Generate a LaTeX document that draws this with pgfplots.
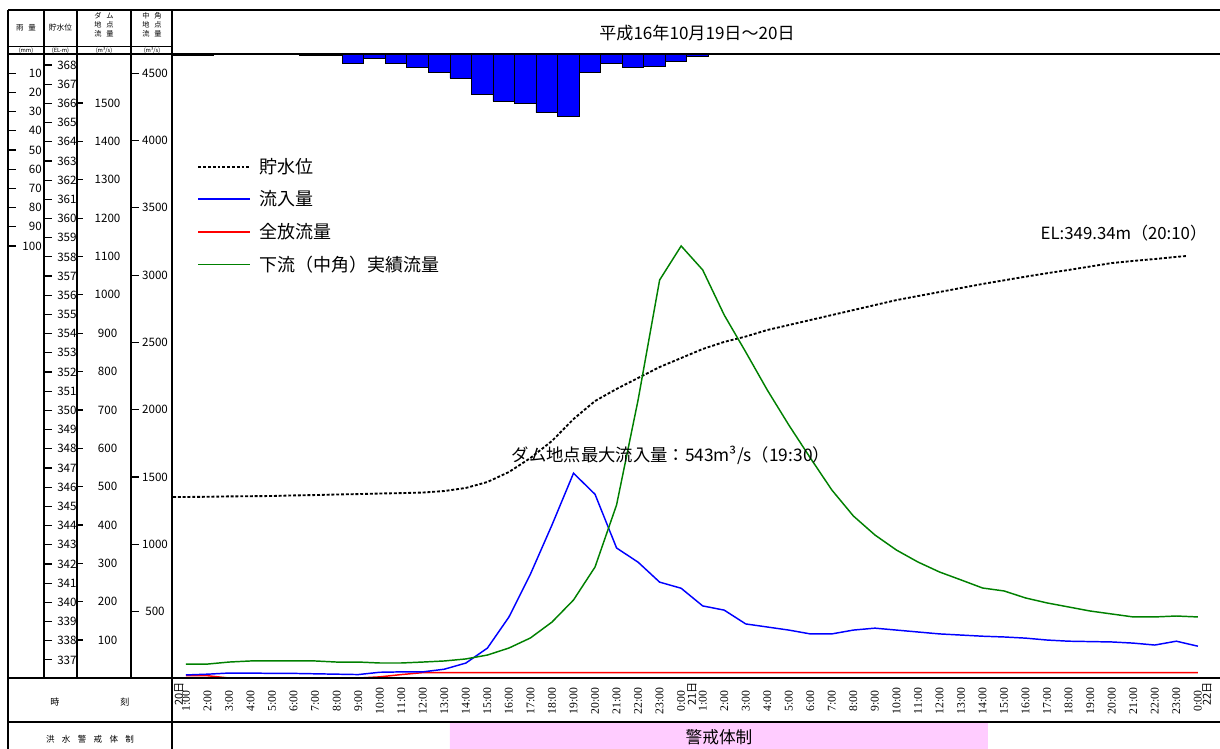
\documentclass[border=0pt]{standalone}
\usepackage{fontspec}
\setmainfont{Noto Sans CJK JP}
\newfontfamily\numfont{Liberation Serif}
\usepackage{pgfplots}
\usepackage{pgfplotstable}
\pgfplotsset{compat=1.18}
\definecolor{pinkband}{RGB}{255,204,255}
\definecolor{dgreen}{RGB}{0,128,0}

% hourly rainfall (mm), bar centres in hours from 20th 0:00
\pgfplotstableread{
h rain
0.757 0.5
1.757 0.5
6.757 0.5
7.757 0.5
8.757 5
9.757 2
10.757 5
11.757 7
12.757 9.5
13.757 12.5
14.757 21
15.757 24.5
16.757 25.5
17.757 30.5
18.757 32.5
19.757 9.5
20.757 5
21.757 7
22.757 6.5
23.757 4
24.757 1
}\raintable

% reservoir level (EL-m)
\pgfplotstableread{
h el
0.4 345.49
1 345.49
2 345.50
3 345.52
4 345.53
5 345.54
6 345.57
7 345.59
8 345.62
9 345.64
10 345.67
11 345.69
12 345.72
13 345.80
14 345.96
15 346.27
16 346.79
17 347.52
18 348.41
19 349.55
20 350.49
21 351.12
22 351.69
23 352.26
24 352.73
25 353.20
26 353.57
27 353.85
28 354.19
29 354.45
30 354.71
31 354.97
32 355.23
33 355.49
34 355.75
35 355.96
36 356.17
37 356.38
38 356.59
39 356.78
40 356.97
41 357.15
42 357.32
43 357.50
44 357.68
45 357.79
46 357.89
47 358.00
47.5 358.05
}\eltable

% dam inflow (m3/s)
\pgfplotstableread{
h q
1 9
2 11
3 14
4 14
5 13
6 13
7 12
8 11
9 10
10 16
11 17
12 17
13 24
14 40
15 79
16 160
17 272
18 400
19 535
20 480
21 340
22 303
23 251
24 235
25 189
26 178
27 142
28 134
29 126
30 116
31 116
32 126
33 131
34 126
35 121
36 116
37 113
38 110
39 108
40 105
41 100
42 97
43 96
44 95
45 92
46 87
47 97
48 84
}\inflowtable

% full release discharge (m3/s)
\pgfplotstableread{
h q
1 7
2 7
3 1
4 1
5 1
6 1
7 1
8 1
9 1
10 4
11 10
12 15
13 15
14 15
15 15
16 15
17 15
18 15
19 15
20 15
21 15
22 15
23 15
24 15
25 15
26 15
27 15
28 15
29 15
30 15
31 15
32 15
33 15
34 15
35 15
36 15
37 15
38 15
39 15
40 15
41 15
42 15
43 15
44 15
45 15
46 15
47 15
48 15
}\releasetable

% downstream (Nakatsuno) observed discharge (m3/s)
\pgfplotstableread{
h q
1 111
2 111
3 126
4 134
5 134
6 134
7 134
8 126
9 126
10 119
11 119
12 126
13 134
14 149
15 178
16 230
17 305
18 423
19 587
20 832
21 1293
22 2073
23 2964
24 3217
25 3039
26 2704
27 2429
28 2147
29 1887
30 1642
31 1404
32 1211
33 1070
34 958
35 869
36 795
37 736
38 676
39 654
40 602
41 565
42 535
43 505
44 483
45 461
46 461
47 468
48 461
}\downtable

\pgfplotsset{
  area/.style={at={(129pt,-40.5pt)}, anchor=north west, width=786pt, height=468pt,
    scale only axis, xmin=0.35, xmax=49.03},
  sidecol/.style={anchor=north west, height=468pt, scale only axis, xmin=0, xmax=1,
    axis x line=none, axis y line*=left, y axis line style={draw=none},
    tick align=inside, major tick length=6pt,
    ytick style={line width=0.9pt, black},
    yticklabel style={font=\fontsize{8.7}{9}\selectfont, inner sep=0pt},
    /pgf/number format/1000 sep={}, /pgf/number format/assume math mode=true},
}

\begin{document}
\begin{tikzpicture}
\useasboundingbox (0pt,0pt) rectangle (915pt,-561.75pt);

% ---- side scales ----
\begin{axis}[sidecol, at={(6pt,-40.5pt)}, width=27pt, ymin=0, ymax=325, y dir=reverse,
  ytick={10,20,...,100}, yticklabel style={anchor=east, xshift=25.5pt}]
\end{axis}
\begin{axis}[sidecol, at={(33pt,-40.5pt)}, width=24.75pt, ymin=336.056, ymax=368.573,
  ytick={337,338,...,368}, yticklabel style={anchor=west, xshift=9.75pt}]
\end{axis}
\begin{axis}[sidecol, at={(57.75pt,-40.5pt)}, width=40.5pt, ymin=1.04, ymax=1627.9,
  major tick length=4.5pt,
  ytick={100,200,...,1500}, yticklabel style={anchor=center, xshift=22.9pt}]
\end{axis}
\begin{axis}[sidecol, at={(98.25pt,-40.5pt)}, width=30.75pt, ymin=7.4, ymax=4643,
  ytick={500,1000,...,4500}, yticklabel style={anchor=center, xshift=18pt}]
\end{axis}

% ---- rainfall bars ----
\begin{axis}[area, hide axis, ymin=0, ymax=325, y dir=reverse, ybar, bar width=1]
\addplot[fill=blue, draw=black, line width=0.5pt] table[x=h, y=rain] {\raintable};
\end{axis}

% ---- reservoir level, time axis, legend ----
\begin{axis}[area, ymin=336.056, ymax=368.573,
  axis x line*=bottom, axis y line=none, x axis line style={draw=none},
  xtick={1,2,...,48}, major tick length=0pt,
  xticklabels={1:00,2:00,3:00,4:00,5:00,6:00,7:00,8:00,9:00,10:00,11:00,12:00,13:00,14:00,15:00,16:00,17:00,18:00,19:00,20:00,21:00,22:00,23:00,0:00,1:00,2:00,3:00,4:00,5:00,6:00,7:00,8:00,9:00,10:00,11:00,12:00,13:00,14:00,15:00,16:00,17:00,18:00,19:00,20:00,21:00,22:00,23:00,0:00},
  xticklabel style={yshift=-17.25pt, rotate=90, anchor=center, inner sep=0pt,
    font=\numfont\fontsize{8.8}{8.8}\selectfont},
  legend style={at={(0.024,0.838)}, anchor=north west, draw=none, fill=none,
    font=\fontsize{13.5}{14}\selectfont, row sep=7.6pt, inner sep=0pt, column sep=4.5pt},
  legend cell align=left,
  legend image code/.code={\draw[#1] (0pt,0pt) -- (39pt,0pt);}]
\addplot[black, line width=1.4pt, dash pattern=on 2.2pt off 1.4pt] table[x=h, y=el] {\eltable};
\addlegendentry{貯水位}
\addlegendimage{blue, line width=1.4pt}
\addlegendentry{流入量}
\addlegendimage{red, line width=1.4pt}
\addlegendentry{全放流量}
\addlegendimage{dgreen, line width=1.4pt}
\addlegendentry{下流（中角）実績流量}
\end{axis}

% ---- dam inflow and release ----
\begin{axis}[area, hide axis, clip=false, ymin=1.04, ymax=1627.9]
\addplot[red, line width=1.1pt] table[x=h, y=q] {\releasetable};
\addplot[blue, line width=1.1pt] table[x=h, y=q] {\inflowtable};
\end{axis}

% ---- downstream discharge ----
\begin{axis}[area, hide axis, ymin=7.4, ymax=4643]
\addplot[dgreen, line width=1.1pt] table[x=h, y=q] {\downtable};
\end{axis}

% ---- warning period band ----
\begin{axis}[at={(129pt,-541.5pt)}, anchor=north west, width=786pt, height=20.25pt,
  scale only axis, xmin=0.35, xmax=49.03, ymin=0, ymax=1, hide axis, clip=false]
\addplot[draw=none, fill=pinkband] coordinates {(13.26,0) (13.26,1) (38.25,1) (38.25,0)} \closedcycle;
\node[font=\fontsize{12.5}{12.5}\selectfont] at (axis cs:25.76,0.45) {警戒体制};
\end{axis}

% ---- frame and texts (pixel coordinates) ----
\begin{scope}[x=0.75pt, y=-0.75pt]
\draw[line width=0.9pt] (8,10) -- (1220,10);
\draw[line width=0.9pt] (8,46.5) -- (172,46.5);
\draw[line width=0.9pt] (8,54) -- (1220,54);
\draw[line width=0.9pt] (8,678) -- (1220,678);
\draw[line width=0.9pt] (8,722) -- (1220,722);
\draw[line width=0.9pt] (8,10) -- (8,749);
\draw[line width=0.9pt] (44,10) -- (44,678);
\draw[line width=0.9pt] (77,10) -- (77,678);
\draw[line width=0.9pt] (131,10) -- (131,678);
\draw[line width=0.9pt] (172,10) -- (172,749);

\node[font=\fontsize{5.6}{5.6}\selectfont] at (26,28) {雨\hspace{3.5pt}量};
\node[font=\fontsize{5.8}{5.8}\selectfont] at (60.5,28) {貯水位};
\node[font=\fontsize{5.4}{6.6}\selectfont, align=center] at (104,24.5) {ダ\hspace{3.5pt}ム\\地\hspace{3.5pt}点\\流\hspace{3.5pt}量};
\node[font=\fontsize{5.4}{6.6}\selectfont, align=center] at (152,24.5) {中\hspace{3.5pt}角\\地\hspace{3.5pt}点\\流\hspace{3.5pt}量};
\node[font=\fontsize{4.3}{4.3}\selectfont] at (26,50.5) {(mm)};
\node[font=\fontsize{4.3}{4.3}\selectfont] at (60.5,50.5) {(EL-m)};
\node[font=\fontsize{4.3}{4.3}\selectfont] at (104,50.5) {(m³/s)};
\node[font=\fontsize{4.3}{4.3}\selectfont] at (152,50.5) {(m³/s)};

\node[font=\fontsize{12.8}{13}\selectfont] at (697,33) {平成16年10月19日～20日};

\node[font=\fontsize{6.8}{7}\selectfont] at (55,702) {時};
\node[font=\fontsize{6.8}{7}\selectfont] at (125,702) {刻};
\node[font=\fontsize{6.4}{7}\selectfont] at (90,739) {洪\hspace{5.5pt}水\hspace{5.5pt}警\hspace{5.5pt}戒\hspace{5.5pt}体\hspace{5.5pt}制};

\node[rotate=90, anchor=east, inner sep=0pt, font=\fontsize{8.3}{8}\selectfont] at (179,682) {20日};
\node[rotate=90, anchor=east, inner sep=0pt, font=\fontsize{8.3}{8}\selectfont] at (692,682) {21日};
\node[rotate=90, anchor=east, inner sep=0pt, font=\fontsize{8.3}{8}\selectfont] at (1207,682) {22日};

\node[anchor=west, font=\fontsize{13}{13}\selectfont] at (507,455) {ダム地点最大流入量：543m³/s（19:30）};
\node[anchor=west, font=\fontsize{12.6}{13}\selectfont] at (1036,233) {EL:349.34m（20:10）};
\end{scope}
\end{tikzpicture}
\end{document}
